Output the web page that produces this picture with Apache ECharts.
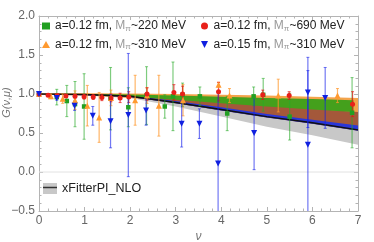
<!DOCTYPE html>
<html><head><meta charset="utf-8">
<script src="https://cdn.jsdelivr.net/npm/echarts@6/dist/echarts.min.js"></script>
<style>html,body{margin:0;padding:0;background:#fff}#c{width:374px;height:242px}</style>
</head><body><div id="c"></div><script>
// ---- data: [nu, G, error] ----
const green220 = [[0.00,1.00,0.01],[0.39,0.96,0.10],[0.61,0.91,0.20],[0.79,0.87,0.29],[0.99,0.84,0.42],[1.57,0.94,0.40],[1.96,0.83,0.25],[2.36,0.98,0.37],[2.76,0.84,0.15],[2.94,0.97,0.44],[3.15,0.99,0.15],[3.53,0.97,0.12],[4.13,0.75,0.22],[4.71,0.97,0.12],[4.92,0.99,0.21],[5.50,0.71,0.30],[6.87,0.76,0.45]];
const orange310 = [[0.00,1.00,0.01],[0.26,0.97,0.03],[0.52,0.94,0.06],[0.79,0.92,0.12],[1.06,0.85,0.26],[1.32,0.70,0.32],[1.58,0.95,0.10],[2.11,0.92,0.32],[2.37,0.98,0.10],[2.63,0.85,0.39],[3.16,0.92,0.20],[3.94,1.12,0.03],[4.18,0.98,0.09],[5.25,0.98,0.21],[6.55,0.98,0.09]];
const red690 = [[0.00,1.00,0.005],[0.20,0.985,0.01],[0.40,0.98,0.01],[0.59,0.975,0.015],[0.79,0.97,0.02],[0.99,0.965,0.03],[1.19,0.96,0.03],[1.38,0.955,0.04],[1.58,0.95,0.05],[1.78,0.95,0.06],[1.97,0.96,0.07],[2.37,1.00,0.08],[2.96,1.02,0.10],[3.15,1.00,0.10],[3.94,1.03,0.12],[4.91,0.99,0.06],[5.49,0.98,0.05],[6.88,0.87,0.16]];
const blue310 = [[0.00,1.00,0.01],[0.39,0.95,0.03],[0.78,0.85,0.06],[1.18,0.72,0.12],[1.57,0.65,0.34],[1.96,0.73,0.79],[2.35,0.79,0.19],[3.13,0.62,0.30],[3.52,0.62,0.19],[3.93,0.11,0.92],[4.72,0.50,0.47],[5.90,0.35,0.95],[5.90,1.02,0.45],[6.28,0.95,0.39]];
// ---- bands ----
const bandNu      = [0, 1, 2, 3, 4, 5, 6, 7];
const greenBandNu = [0, 1, 2, 3, 4, 5, 6, 6.9];
const nloCentral  = [1.00, 0.995, 0.97, 0.89, 0.80, 0.71, 0.63, 0.54];
const nloLow      = [1.00, 0.99, 0.95, 0.84, 0.71, 0.58, 0.47, 0.35];
const nloHigh     = [1.00, 1.00, 0.99, 0.94, 0.89, 0.84, 0.79, 0.73];
const blueLow     = [1.00, 0.985, 0.96, 0.88, 0.79, 0.70, 0.62, 0.53];
const blueHigh    = [1.00, 0.998, 0.98, 0.91, 0.83, 0.745, 0.67, 0.595];
const brownLow    = [1.00, 0.985, 0.96, 0.88, 0.79, 0.70, 0.62, 0.53];
const brownHigh   = [1.00, 0.998, 0.985, 0.945, 0.90, 0.855, 0.81, 0.77];
const orangeLow   = [0.99, 0.98, 0.95, 0.90, 0.85, 0.80, 0.75, 0.70];
const orangeHigh  = [1.01, 1.01, 1.005, 1.00, 0.99, 0.98, 0.965, 0.95];
const greenLow    = [1.00, 0.99, 0.965, 0.925, 0.88, 0.84, 0.80, 0.77];
const greenHigh   = [1.00, 1.00, 0.995, 0.98, 0.965, 0.95, 0.935, 0.92];
const xTicks = [0,1,2,3,4,5,6,7];
const yTicks = [-0.5,0,0.5,1.0,1.5,2.0];

const FONT = 'Liberation Sans, Arial, sans-serif';
const names = {
  g: 'a=0.12 fm, Mπ~220 MeV',
  o: 'a=0.12 fm, Mπ~310 MeV',
  r: 'a=0.12 fm, Mπ~690 MeV',
  b: 'a=0.15 fm, Mπ~310 MeV'
};

function bandSeries(name, xs, lo, hi, color, z) {
  return {
    type: 'custom', name: name, z: z, silent: true, clip: true,
    data: [[xs[0], lo[0]]],
    encode: {x: 0, y: 1},
    itemStyle: {color: color},
    renderItem: function (params, api) {
      const pts = [];
      for (let i = 0; i < xs.length; i++) pts.push(api.coord([xs[i], hi[i]]));
      for (let i = xs.length - 1; i >= 0; i--) pts.push(api.coord([xs[i], lo[i]]));
      return {type: 'polygon', shape: {points: pts}, style: {fill: color, stroke: null}};
    }
  };
}
function errSeries(name, data, color, z) {
  return {
    type: 'custom', name: name, z: z, silent: true, clip: true,
    data: data, encode: {x: 0, y: 1},
    itemStyle: {color: color},
    renderItem: function (params, api) {
      const x = api.value(0), y = api.value(1), e = api.value(2);
      const t = api.coord([x, y + e]), b = api.coord([x, y - e]);
      const w = 1.5;
      return {type: 'group', children: [
        {type: 'line', shape: {x1: t[0], y1: t[1], x2: b[0], y2: b[1]}, style: {stroke: color, lineWidth: 1.2}},
        {type: 'line', shape: {x1: t[0] - w, y1: t[1], x2: t[0] + w, y2: t[1]}, style: {stroke: color, lineWidth: 1}},
        {type: 'line', shape: {x1: b[0] - w, y1: b[1], x2: b[0] + w, y2: b[1]}, style: {stroke: color, lineWidth: 1}}
      ]};
    }
  };
}
function scatterSeries(name, data, symbol, size, color, rotate) {
  return {
    type: 'scatter', name: name, z: 10, silent: true,
    data: data.map(d => [d[0], d[1]]),
    symbol: symbol, symbolSize: size, symbolRotate: rotate || 0,
    itemStyle: {color: color, opacity: 1}
  };
}

const tickStyle = {color: '#b4b4b4', width: 1};
function xAx(pos, show) {
  return {
    type: 'value', position: pos, min: 0, max: 7, interval: 1,
    axisLine: {show: true, onZero: false, lineStyle: tickStyle},
    axisTick: {show: true, inside: true, length: 4, lineStyle: tickStyle},
    minorTick: {show: true, splitNumber: 5, length: 2.5, lineStyle: tickStyle},
    splitLine: {show: false},
    axisLabel: {show: show, color: '#666', fontSize: 12, fontFamily: FONT, margin: 4},
    name: show ? 'ν' : '', nameLocation: 'middle', nameGap: 20, nameMoveOverlap: false,
    nameTextStyle: {color: '#777', fontSize: 12, fontStyle: 'italic', fontFamily: FONT}
  };
}
function yAx(pos, show) {
  return {
    type: 'value', position: pos, min: -0.5, max: 2, interval: 0.5,
    axisLine: {show: true, onZero: false, lineStyle: tickStyle},
    axisTick: {show: true, inside: true, length: 4, lineStyle: tickStyle},
    minorTick: {show: true, splitNumber: 5, length: 2.5, lineStyle: tickStyle},
    splitLine: {show: false},
    axisLabel: {show: show, color: '#666', fontSize: 12, fontFamily: FONT, margin: 4,
      formatter: v => (v < 0 ? '\u2212' : '') + Math.abs(v).toFixed(1)},
    name: show ? 'G(ν,μ)' : '', nameLocation: 'middle', nameGap: 27, nameRotate: 90, nameMoveOverlap: false,
    nameTextStyle: {color: '#777', fontSize: 11, fontStyle: 'italic', fontFamily: FONT, padding: [0, 0, 0, 22]}
  };
}

const rich = {
  t: {color: '#222', fontSize: 12, fontFamily: FONT},
  m: {color: '#999', fontSize: 12, fontFamily: FONT},
  s: {color: '#999', fontSize: 8, fontFamily: FONT, padding: [5, 0, 0, 0]}
};
function legFmt(name) {
  const parts = name.split('Mπ');
  return '{t|' + parts[0] + '}{m|M}{s|π}{t|' + parts[1] + '}';
}

const option = {
  animation: false,
  backgroundColor: '#fff',
  grid: {left: 39, right: 16, top: 16, bottom: 31, containLabel: false, outerBoundsMode: 'none'},
  xAxis: [xAx('bottom', true), xAx('top', false)],
  yAxis: [yAx('left', true), yAx('right', false)],
  legend: [
    {left: 42, top: 20, padding: 0, orient: 'vertical', itemGap: 6, itemWidth: 8, itemHeight: 7,
     formatter: legFmt, textStyle: {rich: rich},
     data: [{name: names.g, icon: 'rect'}, {name: names.o, icon: 'triangle'}]},
    {left: 201, top: 20, padding: 0, orient: 'vertical', itemGap: 6, itemWidth: 8, itemHeight: 7,
     formatter: legFmt, textStyle: {rich: rich},
     data: [{name: names.r, icon: 'circle'}, {name: names.b, icon: 'path://M0,0 L10,0 L5,10 Z'}]},
    {left: 43, top: 182, padding: 0, itemWidth: 14, itemHeight: 11, itemGap: 0,
     textStyle: {color: '#222', fontSize: 12.5, fontFamily: FONT},
     data: [{name: 'xFitterPI_NLO', icon: 'rect', itemStyle: {color: '#c8c8c8'}}]}
  ],
  graphic: [{type: 'line', z: 100, shape: {x1: 43, y1: 187.5, x2: 57, y2: 187.5}, style: {stroke: '#333', lineWidth: 1.5}}],
  series: [
    {type: 'line', name: 'zero', silent: true, z: 0, symbol: 'none',
     data: [[0, 0], [7, 0]], lineStyle: {color: '#e2e2e2', width: 1}},
    bandSeries('xFitterPI_NLO', bandNu, nloLow, nloHigh, '#c8c8c8', 1),
    bandSeries('band310', bandNu, orangeLow, orangeHigh, '#f4a44c', 2),
    bandSeries('band690', bandNu, brownLow, brownHigh, '#a4583a', 3),
    bandSeries('band015', bandNu, blueLow, blueHigh, '#2a36d8', 4),
    bandSeries('band220', greenBandNu, greenLow, greenHigh, '#44a01c', 5),
    {type: 'line', name: 'nloLine', silent: true, z: 6, symbol: 'none',
     data: bandNu.map((x, i) => [x, nloCentral[i]]), lineStyle: {color: '#111', width: 1.5}},
    errSeries('eg', green220, 'rgba(40,170,40,0.6)', 7),
    errSeries('eo', orange310, 'rgba(255,150,40,0.7)', 7),
    errSeries('er', red690, 'rgba(230,20,20,0.7)', 7),
    errSeries('eb', blue310, 'rgba(20,30,235,0.6)', 7),
    scatterSeries(names.g, green220, 'rect', 4.5, '#22a022'),
    scatterSeries(names.o, orange310, 'triangle', 6, '#ff9a30'),
    scatterSeries(names.r, red690, 'circle', 5, '#e8201a'),
    scatterSeries(names.b, blue310, 'triangle', 6, '#1020e0', 180)
  ]
};
const chart = echarts.init(document.getElementById('c'), null, {renderer: 'canvas'});
chart.setOption(option);
</script></body></html>
